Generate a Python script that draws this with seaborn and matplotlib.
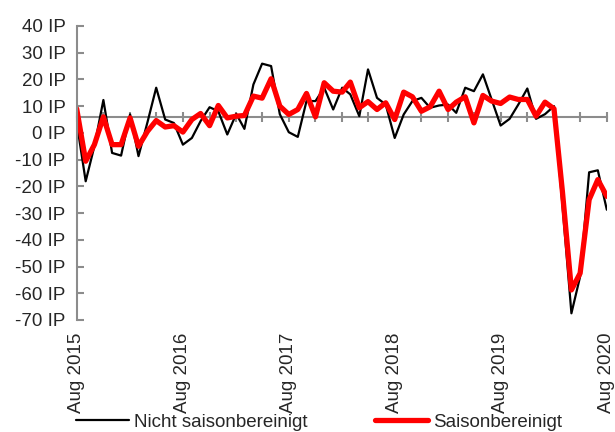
import pandas as pd
import matplotlib
matplotlib.use("Agg")
import matplotlib.pyplot as plt
import matplotlib.dates as mdates
from matplotlib.lines import Line2D
import seaborn as sns

# Monatswerte Aug 2015 - Aug 2020
nicht_saisonbereinigt = [4, -18.1, -5, 12.3, -7.5, -8.5, 6.9, -8.7, 4, 16.9, 5.0, 3.7,
                         -4.4, -1.9, 4.4, 9.6, 8.1, -0.6, 7.1, 1.5, 18.1, 25.9, 25, 7,
                         0.25, -1.5, 11.9, 11.9, 16.9, 8.75, 16.9, 14.4, 6.25, 23.75, 13.1, 10.6,
                         -1.9, 6.9, 11.9, 13.1, 9.4, 10.25, 10.6, 7.5, 16.9, 15.6, 21.9, 12.5,
                         2.75, 5.25, 10.6, 16.6, 5.25, 7, 10, -27, -67.5, -53.75, -14.75, -14,
                         -28.75]
saisonbereinigt = [9.0, -10.6, -4.4, 6.0, -4.4, -4.4, 5.6, -5, 0.6, 4.6, 2.2, 2.7,
                   0.3, 5, 7.25, 2.7, 10.25, 5.6, 6.25, 6.5, 13.75, 13, 20.25, 10,
                   6.9, 8.75, 14.75, 6, 18.75, 15.6, 15.25, 19, 9.4, 11.7, 8.75, 11.25,
                   5.0, 15.25, 13.5, 8.1, 9.75, 15.6, 8.75, 11.5, 13.5, 3.75, 14, 11.9,
                   11, 13.4, 12.5, 12.5, 6.25, 11.5, 9, -22, -58.75, -52.5, -25, -17.5,
                   -23.75]
monate = pd.date_range("2015-08-01", "2020-08-01", freq="MS")
jahres_ticks = pd.date_range("2015-08-01", "2020-08-01", freq="12MS")
quartals_ticks = pd.date_range("2015-08-01", "2020-08-01", freq="3MS")
tick_labels = ["Aug 2015", "Aug 2016", "Aug 2017", "Aug 2018", "Aug 2019", "Aug 2020"]
y_werte = list(range(-70, 41, 10))
y_labels = [f"{v} IP" for v in y_werte]
reihen = ["Nicht saisonbereinigt", "Saisonbereinigt"]
farben = {"Nicht saisonbereinigt": "black", "Saisonbereinigt": "#ff0000"}
breiten = {"Nicht saisonbereinigt": 1.6, "Saisonbereinigt": 3.8}

df = pd.DataFrame({"Monat": monate,
                   "Nicht saisonbereinigt": nicht_saisonbereinigt,
                   "Saisonbereinigt": saisonbereinigt})
df_long = df.melt(id_vars="Monat", var_name="Reihe", value_name="Wert")

sns.set_style("white")
plt.rcParams["font.family"] = ["Liberation Sans", "DejaVu Sans"]
plt.rcParams["font.size"] = 13.5
grau = "#8c8c8c"

fig = plt.figure(figsize=(6.15, 4.32), dpi=100)
ax = fig.add_axes([0.1247, 0.2593, 0.862, 0.6806])

sns.lineplot(data=df_long, x="Monat", y="Wert", hue="Reihe", size="Reihe",
             hue_order=reihen, size_order=reihen, palette=farben, sizes=breiten,
             legend=False, ax=ax)

ax.set_xlim(monate[0], monate[-1])
ax.set_ylim(-70, 40)
ax.set_xlabel("")
ax.set_ylabel("")

# y-Achse
ax.set_yticks(y_werte)
ax.set_yticklabels(y_labels)
ax.tick_params(axis="y", direction="in", length=5, width=1.5, color=grau, pad=8,
               labelsize=13.5, left=True)
for s in ["top", "right", "bottom"]:
    ax.spines[s].set_visible(False)
ax.spines["left"].set_color(grau)
ax.spines["left"].set_linewidth(1.5)

# x-Beschriftung unten
ax.set_xticks(jahres_ticks)
ax.set_xticklabels(tick_labels, rotation=90)
ax.tick_params(axis="x", length=0, pad=9, labelsize=13.5)

# graue Achsenlinie bei 6 mit Quartalsstrichen
achse = ax.secondary_xaxis((6 + 70) / 110)
achse.set_xticks(mdates.date2num(quartals_ticks))
achse.tick_params(direction="inout", length=7, width=1.5, color=grau,
                  labeltop=False, labelbottom=False)
for s in ["top", "bottom"]:
    achse.spines[s].set_color(grau)
    achse.spines[s].set_linewidth(1.5)

handles = [Line2D([], [], color=farben[r], lw=breiten[r]) for r in reihen]
fig.legend(handles, reihen, loc="center", bbox_to_anchor=(0.519, 0.023), ncol=2,
           frameon=False, handlelength=2.8, handletextpad=0.3, columnspacing=3.6,
           fontsize=13.5)

fig.savefig("out.png", dpi=100)
